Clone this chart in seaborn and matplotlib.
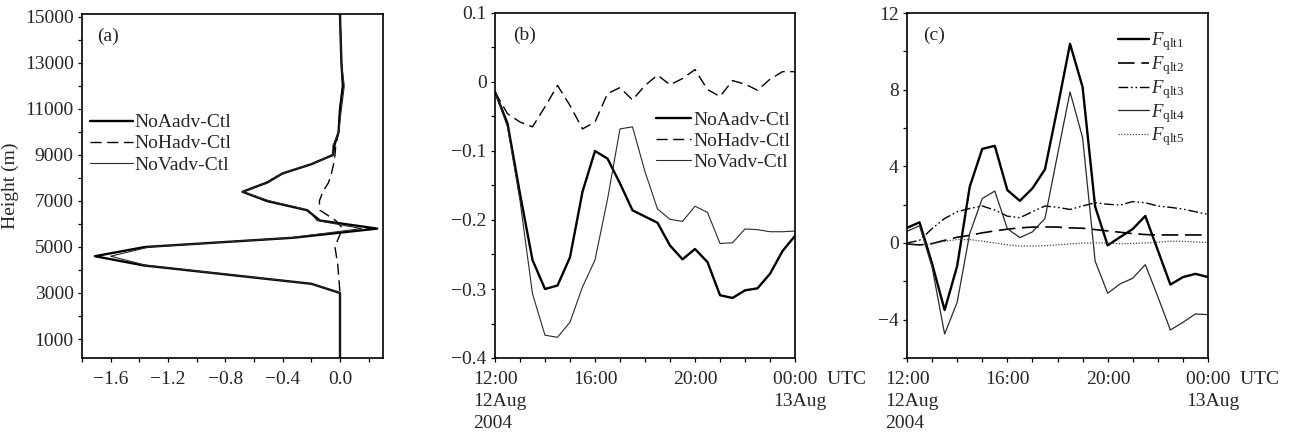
import numpy as np
import pandas as pd
import matplotlib
matplotlib.use('Agg')
import matplotlib.pyplot as plt
import matplotlib.transforms as mtransforms
from matplotlib.ticker import MultipleLocator, FixedLocator
import seaborn as sns

sns.set_style('ticks')
plt.rcParams['font.family'] = ['Liberation Serif', 'DejaVu Serif']
plt.rcParams['mathtext.fontset'] = 'custom'
plt.rcParams['mathtext.rm'] = 'Liberation Serif'
plt.rcParams['mathtext.it'] = 'Liberation Serif:italic'
plt.rcParams['axes.unicode_minus'] = True

# ---------------- data: panel (a) ----------------
height_m = [174, 1000, 2000, 3000, 3400, 4200, 4600, 5000, 5400, 5800, 6150, 6600,
            7000, 7400, 7800, 8200, 8600, 9000, 9400, 10000, 11000, 12000, 13000, 14000, 15130]
a_noaadv = [0.0, 0.0, 0.0, 0.0, -0.20, -1.37, -1.71, -1.36, -0.33, 0.26, -0.14, -0.23,
            -0.51, -0.68, -0.51, -0.40, -0.20, -0.05, -0.04, -0.01, 0.0, 0.02, 0.01, 0.005, 0.0]
a_nohadv = [0.0, 0.0, 0.0, 0.0, -0.005, -0.015, -0.025, -0.035, -0.01, 0.02, -0.03, -0.14,
            -0.144, -0.12, -0.08, -0.06, -0.045, -0.035, -0.03, -0.01, 0.0, 0.02, 0.01, 0.005, 0.0]
a_novadv = [0.0, 0.0, 0.0, 0.0, -0.20, -1.35, -1.60, -1.33, -0.35, 0.15, -0.16, -0.22,
            -0.49, -0.68, -0.50, -0.40, -0.20, -0.05, -0.05, -0.01, 0.01, 0.03, 0.01, 0.005, 0.0]

# ---------------- data: panels (b), (c) ----------------
# hours after 12:00 UTC 12 Aug 2004 (half-hourly output)
hours = [0, 0.5, 1, 1.5, 2, 2.5, 3, 3.5, 4, 4.5, 5, 5.5, 6, 6.5, 7, 7.5, 8, 8.5,
         9, 9.5, 10, 10.5, 11, 11.5, 12]
b_noaadv = [-0.0145, -0.06, -0.162, -0.258, -0.300, -0.295, -0.254, -0.159, -0.100, -0.111,
            -0.147, -0.186, -0.195, -0.204, -0.237, -0.257, -0.242, -0.261, -0.309, -0.313,
            -0.302, -0.299, -0.278, -0.245, -0.223]
b_nohadv = [-0.0145, -0.046, -0.058, -0.065, -0.036, -0.005, -0.034, -0.068, -0.058, -0.017,
            -0.008, -0.026, -0.005, 0.010, -0.004, 0.005, 0.018, -0.011, -0.021, 0.002,
            -0.003, -0.012, 0.004, 0.015, 0.015]
b_novadv = [-0.0145, -0.065, -0.172, -0.307, -0.367, -0.370, -0.348, -0.297, -0.258, -0.170,
            -0.068, -0.065, -0.130, -0.184, -0.199, -0.202, -0.180, -0.189, -0.234, -0.233,
            -0.213, -0.214, -0.217, -0.217, -0.216]

c_f1 = [0.79, 1.08, -1.08, -3.50, -1.20, 2.93, 4.91, 5.07, 2.76, 2.20, 2.85, 3.84, 7.05,
        10.39, 8.14, 1.90, -0.12, 0.31, 0.73, 1.41, -0.38, -2.17, -1.78, -1.61, -1.78]
c_f2 = [-0.05, -0.10, -0.03, 0.14, 0.30, 0.40, 0.53, 0.63, 0.72, 0.79, 0.83, 0.84, 0.83,
        0.79, 0.77, 0.70, 0.63, 0.56, 0.49, 0.44, 0.42, 0.42, 0.42, 0.42, 0.42]
c_f3 = [0.0, 0.14, 0.75, 1.28, 1.63, 1.80, 1.93, 1.72, 1.40, 1.32, 1.63, 1.93, 1.86,
        1.75, 1.93, 2.10, 2.02, 1.98, 2.16, 2.10, 1.93, 1.86, 1.77, 1.63, 1.49]
c_f4 = [0.61, 0.90, -1.26, -4.75, -3.09, 0.49, 2.32, 2.71, 0.75, 0.28, 0.58, 1.28, 4.60,
        7.88, 5.50, -0.94, -2.62, -2.13, -1.84, -1.13, -2.80, -4.54, -4.14, -3.70, -3.74]
c_f5 = [-0.04, -0.12, -0.04, 0.09, 0.18, 0.18, 0.10, 0.0, -0.09, -0.16, -0.16, -0.14, -0.10,
        -0.05, 0.0, 0.0, 0.0, -0.04, -0.02, 0.0, 0.04, 0.09, 0.09, 0.05, 0.02]

a_labels = ['NoAadv-Ctl', 'NoHadv-Ctl', 'NoVadv-Ctl']
c_labels = [r'$F_{\mathrm{qlt1}}$', r'$F_{\mathrm{qlt2}}$', r'$F_{\mathrm{qlt3}}$',
            r'$F_{\mathrm{qlt4}}$', r'$F_{\mathrm{qlt5}}$']
time_ticks = [0, 4, 8, 12]
time_ticklabels = ['12:00\n12Aug\n2004', '16:00', '20:00', '00:00  UTC\n13Aug']
a_xticks = [-1.6, -1.2, -0.8, -0.4, 0.0]
a_yticks = [1000, 3000, 5000, 7000, 9000, 11000, 13000, 15000]

W, H = 1293, 434
fig = plt.figure(figsize=(W / 100, H / 100), dpi=100)

def axes_px(l, r, top, bot):
    return fig.add_axes([l / W, 1 - bot / H, (r - l) / W, (bot - top) / H])

axA = axes_px(82, 383, 14, 358)
axB = axes_px(495, 795, 13, 358)
axC = axes_px(907, 1208, 13, 358)

FS = 14
thick = dict(color='black', lw=1.7)
dashA = dict(color='black', lw=1.0, linestyle=(0, (8, 4)))
thin = dict(color='#2a2a2a', lw=0.8)

# ---- panel (a)
dfa = pd.DataFrame({'h': height_m, 'a': a_noaadv, 'hh': a_nohadv, 'v': a_novadv})
sns.lineplot(data=dfa, x='a', y='h', orient='y', estimator=None, ax=axA, label=a_labels[0], **thick)
sns.lineplot(data=dfa, x='hh', y='h', orient='y', estimator=None, ax=axA, label=a_labels[1], **dashA)
sns.lineplot(data=dfa, x='v', y='h', orient='y', estimator=None, ax=axA, label=a_labels[2], **thin)
axA.set_xlim(-1.8, 0.3)
axA.set_ylim(174, 15130)
axA.xaxis.set_major_locator(FixedLocator(a_xticks))
axA.set_xticklabels([f'{v:.1f}'.replace('-', '\u2212') for v in a_xticks])
axA.xaxis.set_minor_locator(MultipleLocator(0.2))
axA.yaxis.set_major_locator(FixedLocator(a_yticks))
axA.set_yticklabels([str(v) for v in a_yticks])
axA.yaxis.set_minor_locator(MultipleLocator(1000))
axA.set_xlabel('')
axA.set_ylabel('Height (m)', fontsize=FS)
axA.yaxis.set_label_coords(-0.21, 0.5)
axA.text(0.05, 0.935, '(a)', transform=axA.transAxes, fontsize=FS, va='center', ha='left')
axA.legend(loc='upper left', bbox_to_anchor=(0.027, 0.71), frameon=False, fontsize=FS,
           handlelength=2.2, handletextpad=0.1, labelspacing=0.18, borderpad=0, borderaxespad=0)

# ---- panel (b)
dfb = pd.DataFrame({'t': hours, 'a': b_noaadv, 'h': b_nohadv, 'v': b_novadv})
sns.lineplot(data=dfb, x='t', y='a', estimator=None, ax=axB, label=a_labels[0], **thick)
sns.lineplot(data=dfb, x='t', y='h', estimator=None, ax=axB, label=a_labels[1], **dashA)
sns.lineplot(data=dfb, x='t', y='v', estimator=None, ax=axB, label=a_labels[2], **thin)
axB.set_xlim(0, 12)
axB.set_ylim(-0.4, 0.1)
axB.set_yticks([0.1, 0.0, -0.1, -0.2, -0.3, -0.4])
axB.set_yticklabels(['0.1', '0', '\u22120.1', '\u22120.2', '\u22120.3', '\u22120.4'])
axB.yaxis.set_minor_locator(MultipleLocator(0.05))
axB.set_xlabel('')
axB.set_ylabel('')
axB.text(0.06, 0.935, '(b)', transform=axB.transAxes, fontsize=FS, va='center', ha='left')
axB.legend(loc='upper left', bbox_to_anchor=(0.535, 0.715), frameon=False, fontsize=FS,
           handlelength=1.85, handletextpad=0.1, labelspacing=0.18, borderpad=0, borderaxespad=0)

# ---- panel (c)
dfc = pd.DataFrame({'t': hours, 'f1': c_f1, 'f2': c_f2, 'f3': c_f3, 'f4': c_f4, 'f5': c_f5})
sns.lineplot(data=dfc, x='t', y='f1', estimator=None, ax=axC, label=c_labels[0], color='black', lw=1.7)
sns.lineplot(data=dfc, x='t', y='f2', estimator=None, ax=axC, label=c_labels[1], color='black', lw=1.2,
             linestyle=(0, (10, 4)))
sns.lineplot(data=dfc, x='t', y='f3', estimator=None, ax=axC, label=c_labels[2], color='black', lw=1.0,
             linestyle=(0, (7, 2, 1.2, 2, 1.2, 2)))
sns.lineplot(data=dfc, x='t', y='f4', estimator=None, ax=axC, label=c_labels[3], color='#2a2a2a', lw=0.9)
sns.lineplot(data=dfc, x='t', y='f5', estimator=None, ax=axC, label=c_labels[4], color='#444444', lw=0.9,
             linestyle=(0, (1, 1.3)))
axC.set_xlim(0, 12)
axC.set_ylim(-6, 12)
axC.set_yticks([12, 8, 4, 0, -4])
axC.set_yticklabels(['12', '8', '4', '0', '\u22124'])
axC.yaxis.set_minor_locator(MultipleLocator(2))
axC.set_xlabel('')
axC.set_ylabel('')
axC.text(0.054, 0.935, '(c)', transform=axC.transAxes, fontsize=FS, va='center', ha='left')
axC.legend(loc='upper left', bbox_to_anchor=(0.70, 0.95), frameon=False, fontsize=13.5,
           handlelength=1.65, handletextpad=0.1, labelspacing=0.05, borderpad=0, borderaxespad=0)

for ax in (axA, axB, axC):
    for sp in ax.spines.values():
        sp.set_visible(True)
        sp.set_linewidth(1.2)
        sp.set_color('black')
    ax.tick_params(axis='both', which='both', direction='out', top=False, right=False,
                   labelsize=FS, color='black', width=0.9, length=3)
    ax.tick_params(axis='y', which='major', pad=3)
    ax.tick_params(axis='x', which='major', pad=6)
    ax.grid(False)

for ax in (axB, axC):
    ax.set_xticks(time_ticks)
    ax.set_xticklabels(time_ticklabels, linespacing=1.42)
    ax.xaxis.set_minor_locator(MultipleLocator(1))
    off = mtransforms.ScaledTranslation(-0.22, 0, fig.dpi_scale_trans)
    for lab in ax.get_xticklabels():
        lab.set_ha('left')
        lab.set_va('top')
        lab.set_transform(lab.get_transform() + off)

fig.savefig('out.png', dpi=100)
